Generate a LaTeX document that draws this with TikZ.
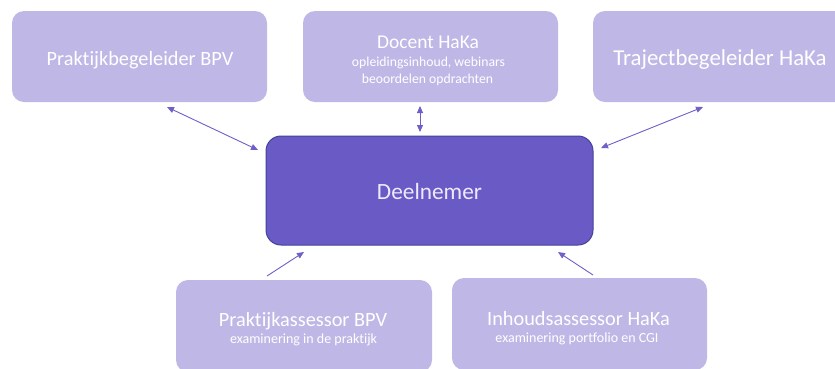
\documentclass[tikz,border=0pt]{standalone}
\usepackage{fontspec}
\setmainfont{Carlito}[Ligatures=NoCommon]
\usetikzlibrary{arrows.meta}
\definecolor{lightbox}{HTML}{BFB8E6}
\definecolor{darkbox}{HTML}{6A5AC6}
\definecolor{darkedge}{HTML}{43439A}
\definecolor{arrowcol}{HTML}{6E60C8}
\definecolor{dtext}{HTML}{EEEAFB}
\tikzset{
  rolebox/.style={rectangle, rounded corners=12pt, fill=lightbox, draw=none,
    minimum width=255pt, minimum height=91pt, inner sep=0pt},
  mainbox/.style={rectangle, rounded corners=15pt, fill=darkbox, draw=darkedge, line width=1pt,
    minimum width=327pt, minimum height=109pt, inner sep=0pt},
  roletxt/.style={anchor=base, text=white, inner sep=0pt, font=\fontsize{20.3}{24}\selectfont},
  subtxt/.style={anchor=base, text=white, inner sep=0pt, font=\fontsize{14}{16}\selectfont},
  link/.style={arrowcol, line width=0.9pt, {Triangle[length=7pt,width=6pt]}-{Triangle[length=7pt,width=6pt]}},
  onelink/.style={arrowcol, line width=0.9pt, -{Triangle[length=7pt,width=6pt]}}
}
\begin{document}
\begin{tikzpicture}[x=1pt,y=-1pt]
\clip (0,0) rectangle (835,368);
\fill[white] (0,0) rectangle (835,368);
% boxes
\node[rolebox] (b1) at (139.5,56.5) {};
\node[rolebox] (b2) at (430.5,56.5) {};
\node[rolebox] (b3) at (720.5,56.5) {};
\node[mainbox] (d) at (429.5,190.5) {};
\node[rolebox, minimum width=256pt, minimum height=92pt] (b4) at (304,326) {};
\node[rolebox, minimum height=92pt] (b5) at (579.5,324) {};
% texts
\node[roletxt] (t1) at (140,65) {Praktijkbegeleider BPV};
\node[roletxt, font=\fontsize{19.5}{22}\selectfont] (t2) at (428,48) {Docent HaKa};
\node[subtxt, font=\fontsize{13.7}{16}\selectfont] (s2a) at (428.5,66.5) {opleidingsinhoud, webinars};
\node[subtxt, font=\fontsize{13.7}{16}\selectfont] (s2b) at (427.5,83) {beoordelen opdrachten};
\node[roletxt, font=\fontsize{22.8}{26}\selectfont] (t3) at (720,65) {Trajectbegeleider HaKa};
\node[anchor=base, inner sep=0pt, text=dtext, font=\fontsize{23.3}{26}\selectfont] (td) at (429.5,199) {Deelnemer};
\node[roletxt] (t4) at (303,326) {Praktijkassessor BPV};
\node[subtxt] (s4) at (303.5,343) {examinering in de praktijk};
\node[roletxt] (t5) at (578.5,325) {Inhoudsassessor HaKa};
\node[subtxt] (s5) at (577,342) {examinering portfolio en CGI};
% connectors
\coordinate (a1s) at (167,107);
\coordinate (a1e) at (258,150);
\coordinate (a2s) at (420,106);
\coordinate (a2e) at (420,132);
\coordinate (a3s) at (601,148);
\coordinate (a3e) at (703,107);
\coordinate (a4s) at (267,276);
\coordinate (a4e) at (304,252);
\coordinate (a5s) at (593,275);
\coordinate (a5e) at (558,252);
\draw[link] (a1s) -- (a1e);
\draw[link] (a2s) -- (a2e);
\draw[link] (a3s) -- (a3e);
\draw[onelink] (a4s) -- (a4e);
\draw[onelink] (a5s) -- (a5e);
\end{tikzpicture}
\end{document}
